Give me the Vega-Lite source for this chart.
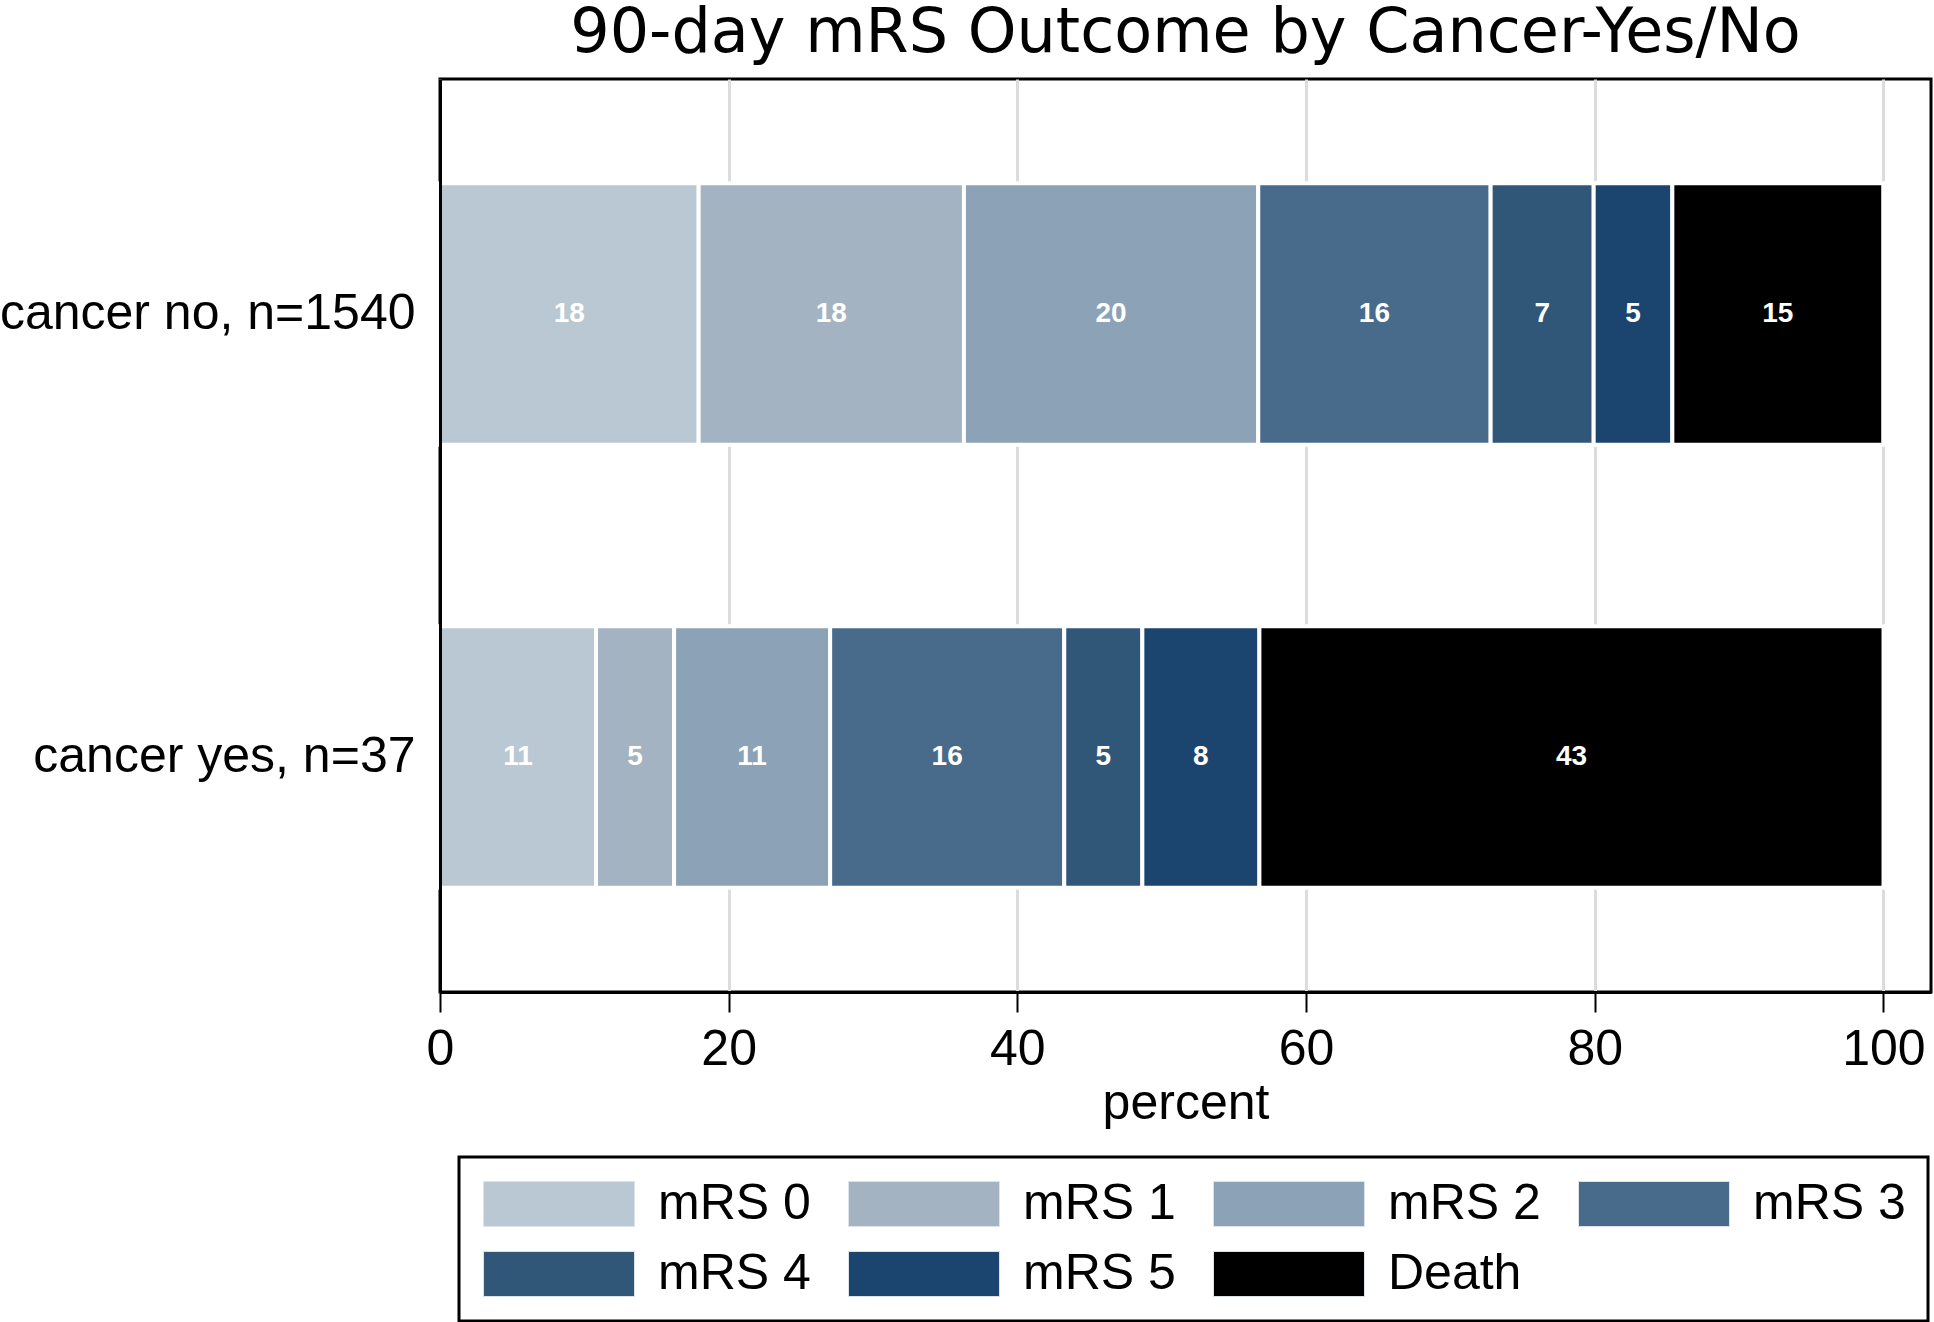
{
  "$schema": "https://vega.github.io/schema/vega-lite/v6.json",
  "width": 1491,
  "height": 913,
  "autosize": {"type": "none"},
  "padding": {"left": 440, "top": 79, "right": 3, "bottom": 330},
  "background": "white",
  "title": {
    "text": "90-day mRS Outcome by Cancer-Yes/No",
    "fontSize": 62,
    "font": "DejaVu Sans",
    "fontWeight": "normal",
    "color": "black",
    "anchor": "middle",
    "frame": "group",
    "offset": 14
  },
  "data": {
    "values": [
      {"group": "cancer no, n=1540", "category": "mRS 0", "order": 0, "pct": 17.92},
      {"group": "cancer no, n=1540", "category": "mRS 1", "order": 1, "pct": 18.38},
      {"group": "cancer no, n=1540", "category": "mRS 2", "order": 2, "pct": 20.39},
      {"group": "cancer no, n=1540", "category": "mRS 3", "order": 3, "pct": 16.10},
      {"group": "cancer no, n=1540", "category": "mRS 4", "order": 4, "pct": 7.14},
      {"group": "cancer no, n=1540", "category": "mRS 5", "order": 5, "pct": 5.45},
      {"group": "cancer no, n=1540", "category": "Death", "order": 6, "pct": 14.61},
      {"group": "cancer yes, n=37", "category": "mRS 0", "order": 0, "pct": 10.81},
      {"group": "cancer yes, n=37", "category": "mRS 1", "order": 1, "pct": 5.41},
      {"group": "cancer yes, n=37", "category": "mRS 2", "order": 2, "pct": 10.81},
      {"group": "cancer yes, n=37", "category": "mRS 3", "order": 3, "pct": 16.22},
      {"group": "cancer yes, n=37", "category": "mRS 4", "order": 4, "pct": 5.41},
      {"group": "cancer yes, n=37", "category": "mRS 5", "order": 5, "pct": 8.11},
      {"group": "cancer yes, n=37", "category": "Death", "order": 6, "pct": 43.24}
    ]
  },
  "encoding": {
    "y": {
      "field": "group",
      "type": "nominal",
      "sort": ["cancer no, n=1540", "cancer yes, n=37"],
      "scale": {"paddingInner": 0.41, "paddingOuter": 0.2355},
      "axis": {
        "title": null,
        "ticks": false,
        "grid": false,
        "zindex": 1,
        "domainColor": "black",
        "domainWidth": 3,
        "labelFontSize": 50,
        "labelFont": "Liberation Sans",
        "labelColor": "black",
        "labelPadding": 25,
        "labelLimit": 1000
      }
    }
  },
  "layer": [
    {
      "mark": {"type": "bar", "stroke": "white", "strokeWidth": 4},
      "encoding": {
        "x": {
          "field": "pct",
          "type": "quantitative",
          "stack": "zero",
          "scale": {"domain": [0, 103.3], "nice": false},
          "axis": {
            "title": "percent",
            "values": [0, 20, 40, 60, 80, 100],
            "grid": true,
            "gridColor": "#dcdcdc",
            "gridWidth": 3,
            "domainColor": "black",
            "domainWidth": 3,
            "tickColor": "black",
            "tickWidth": 2,
            "tickSize": 20,
            "labelFontSize": 50,
            "labelFont": "Liberation Sans",
            "labelColor": "black",
            "labelPadding": 12,
            "labelFlush": false,
            "titleFontSize": 50,
            "titleFont": "Liberation Sans",
            "titleFontWeight": "normal",
            "titleColor": "black",
            "titlePadding": 4
          }
        },
        "color": {
          "field": "category",
          "type": "nominal",
          "scale": {
            "domain": ["mRS 0", "mRS 1", "mRS 2", "mRS 3", "mRS 4", "mRS 5", "Death"],
            "range": ["#bac8d3", "#a3b3c2", "#8ca2b6", "#496b8b", "#305678", "#1b456e", "#000000"]
          },
          "legend": {
            "title": null,
            "orient": "none",
            "legendX": 19,
            "legendY": 1078,
            "direction": "horizontal",
            "columns": 4,
            "symbolType": "M-1,-1H5.711V1H-1Z",
            "symbolSize": 2025,
            "symbolStrokeColor": "#dde3e8",
            "symbolStrokeWidth": 1,
            "symbolOpacity": 1,
            "labelFontSize": 50,
            "labelFont": "Liberation Sans",
            "labelColor": "black",
            "labelOffset": 127,
            "columnPadding": 35,
            "rowPadding": 20,
            "padding": 22,
            "strokeColor": "black",
            "fillColor": "white"
          }
        },
        "order": {"field": "order", "type": "quantitative"}
      }
    },
    {
      "mark": {"type": "text", "color": "white", "fontSize": 28, "fontWeight": "bold", "font": "Liberation Sans", "baseline": "middle", "align": "center"},
      "encoding": {
        "x": {"field": "pct", "type": "quantitative", "stack": "zero", "bandPosition": 0.5},
        "detail": {"field": "category", "type": "nominal"},
        "order": {"field": "order", "type": "quantitative"},
        "text": {"field": "pct", "type": "quantitative", "format": ".0f"}
      }
    }
  ],
  "config": {
    "view": {"stroke": "black", "strokeWidth": 3},
    "legend": {"strokeWidth": 3}
  }
}
